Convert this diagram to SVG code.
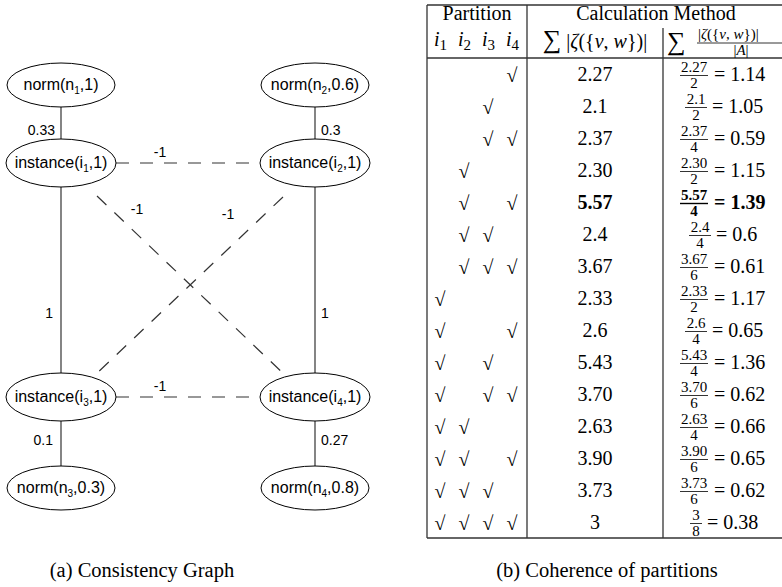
<svg xmlns="http://www.w3.org/2000/svg" width="782" height="587" viewBox="0 0 782 587">
<style>
.nd ellipse{fill:#fff;stroke:#000;stroke-width:1}
.nt{font-family:"Liberation Sans",Arial,sans-serif;font-size:16px;fill:#000;text-anchor:middle}
.sub{font-size:10px}
.el{font-family:"Liberation Sans",Arial,sans-serif;font-size:14px;fill:#000}
.solid{stroke:#333;stroke-width:1.2;fill:none}
.dash{stroke:#333;stroke-width:1.2;fill:none;stroke-dasharray:13 11}
.tl{stroke:#333;stroke-width:1.3}
.tx{font-family:"Liberation Serif","Times New Roman",serif;font-size:20px;fill:#000}
.m{text-anchor:middle}
.sm{font-size:15px}
.hs{font-size:15px}
.big{font-size:26px}
.it{font-style:italic}
.cap{font-family:"Liberation Serif","Times New Roman",serif;font-size:20.5px;fill:#000;text-anchor:middle}
.fb{stroke:#000;stroke-width:0.8}
</style>
<g id="connectors">
<line class="solid" x1="61" y1="107" x2="61" y2="139"/>
<line class="solid" x1="315" y1="107" x2="315" y2="139"/>
<line class="solid" x1="61" y1="187" x2="61" y2="373"/>
<line class="solid" x1="315" y1="187" x2="315" y2="373"/>
<line class="solid" x1="61" y1="421" x2="61" y2="466"/>
<line class="solid" x1="315" y1="421" x2="315" y2="466"/>
<line class="dash" x1="116" y1="163" x2="261" y2="163"/>
<line class="dash" x1="116" y1="397" x2="261" y2="397"/>
<line class="dash" x1="97" y1="196" x2="287" y2="377"/>
<line class="dash" x1="283" y1="197" x2="94" y2="376"/>
<text class="el" x="55" y="135" text-anchor="end">0.33</text>
<text class="el" x="321" y="135">0.3</text>
<text class="el" x="53" y="318" text-anchor="end">1</text>
<text class="el" x="321" y="318">1</text>
<text class="el" x="53" y="445" text-anchor="end">0.1</text>
<text class="el" x="321" y="445">0.27</text>
<text class="el" x="160" y="157" text-anchor="middle">-1</text>
<text class="el" x="137" y="214" text-anchor="middle">-1</text>
<text class="el" x="228" y="219" text-anchor="middle">-1</text>
<text class="el" x="160" y="391" text-anchor="middle">-1</text>
</g>
<g id="n1" class="nd"><ellipse cx="61" cy="85" rx="54" ry="22"/><text class="nt" x="61" y="90">norm(n<tspan class="sub" dy="4">1</tspan><tspan dy="-4">,1)</tspan></text></g>
<g id="n2" class="nd"><ellipse cx="315" cy="85" rx="54" ry="22"/><text class="nt" x="315" y="90">norm(n<tspan class="sub" dy="4">2</tspan><tspan dy="-4">,0.6)</tspan></text></g>
<g id="i1" class="nd"><ellipse cx="61" cy="163" rx="55" ry="24"/><text class="nt" x="61" y="168">instance(i<tspan class="sub" dy="4">1</tspan><tspan dy="-4">,1)</tspan></text></g>
<g id="i2" class="nd"><ellipse cx="315" cy="163" rx="55" ry="24"/><text class="nt" x="315" y="168">instance(i<tspan class="sub" dy="4">2</tspan><tspan dy="-4">,1)</tspan></text></g>
<g id="i3" class="nd"><ellipse cx="61" cy="397" rx="55" ry="24"/><text class="nt" x="61" y="402">instance(i<tspan class="sub" dy="4">3</tspan><tspan dy="-4">,1)</tspan></text></g>
<g id="i4" class="nd"><ellipse cx="315" cy="397" rx="55" ry="24"/><text class="nt" x="315" y="402">instance(i<tspan class="sub" dy="4">4</tspan><tspan dy="-4">,1)</tspan></text></g>
<g id="n3" class="nd"><ellipse cx="61" cy="488" rx="54" ry="22"/><text class="nt" x="61" y="493">norm(n<tspan class="sub" dy="4">3</tspan><tspan dy="-4">,0.3)</tspan></text></g>
<g id="n4" class="nd"><ellipse cx="315" cy="488" rx="54" ry="22"/><text class="nt" x="315" y="493">norm(n<tspan class="sub" dy="4">4</tspan><tspan dy="-4">,0.8)</tspan></text></g>
<g id="table">
<line class="tl" x1="427" y1="5" x2="782" y2="5"/>
<line class="tl" x1="427" y1="58" x2="782" y2="58"/>
<line class="tl" x1="427" y1="538" x2="782" y2="538"/>
<line class="tl" x1="427" y1="5" x2="427" y2="538"/>
<line class="tl" x1="527" y1="5" x2="527" y2="538"/>
<line class="tl" x1="663" y1="28" x2="663" y2="538"/>
<text class="tx m" x="477" y="20">Partition</text>
<text class="tx m" x="656" y="20">Calculation Method</text>
<text class="tx it" x="434" y="46">i<tspan class="sm" dy="4" font-style="normal">1</tspan></text>
<text class="tx it" x="458" y="46">i<tspan class="sm" dy="4" font-style="normal">2</tspan></text>
<text class="tx it" x="482" y="46">i<tspan class="sm" dy="4" font-style="normal">3</tspan></text>
<text class="tx it" x="506" y="46">i<tspan class="sm" dy="4" font-style="normal">4</tspan></text>
<text class="tx m" x="595" y="48"><tspan class="big">∑</tspan> |<tspan class="it">ζ</tspan>({<tspan class="it">v</tspan>, <tspan class="it">w</tspan>})|</text>
<text class="tx big" x="667" y="50">∑</text>
<text class="tx hs" x="698" y="39">|<tspan class="it">ζ</tspan>({<tspan class="it">v</tspan>, <tspan class="it">w</tspan>})|</text>
<line class="fb" x1="697" y1="43" x2="784" y2="43"/>
<text class="tx hs m" x="741" y="55">|<tspan class="it">A</tspan>|</text>
</g>
<g id="checks" class="tx" text-anchor="middle">
<text x="512" y="82">√</text>
<text x="488" y="114">√</text>
<text x="488" y="146">√</text><text x="512" y="146">√</text>
<text x="464" y="178">√</text>
<text x="464" y="210">√</text><text x="512" y="210">√</text>
<text x="464" y="242">√</text><text x="488" y="242">√</text>
<text x="464" y="274">√</text><text x="488" y="274">√</text><text x="512" y="274">√</text>
<text x="440" y="306">√</text>
<text x="440" y="338">√</text><text x="512" y="338">√</text>
<text x="440" y="370">√</text><text x="488" y="370">√</text>
<text x="440" y="402">√</text><text x="488" y="402">√</text><text x="512" y="402">√</text>
<text x="440" y="434">√</text><text x="464" y="434">√</text>
<text x="440" y="466">√</text><text x="464" y="466">√</text><text x="512" y="466">√</text>
<text x="440" y="498">√</text><text x="464" y="498">√</text><text x="488" y="498">√</text>
<text x="440" y="530">√</text><text x="464" y="530">√</text><text x="488" y="530">√</text><text x="512" y="530">√</text>
</g>
<g id="sums" class="tx" text-anchor="middle">
<text x="595" y="81">2.27</text>
<text x="595" y="113">2.1</text>
<text x="595" y="145">2.37</text>
<text x="595" y="177">2.30</text>
<text x="595" y="209" font-weight="bold">5.57</text>
<text x="595" y="241">2.4</text>
<text x="595" y="273">3.67</text>
<text x="595" y="305">2.33</text>
<text x="595" y="337">2.6</text>
<text x="595" y="369">5.43</text>
<text x="595" y="401">3.70</text>
<text x="595" y="433">2.63</text>
<text x="595" y="465">3.90</text>
<text x="595" y="497">3.73</text>
<text x="595" y="529">3</text>
</g>
<g id="fractions" class="tx">
<g transform="translate(0,74)"><text class="sm m" x="694" y="-2">2.27</text><line class="fb" x1="680" y1="1.5" x2="708" y2="1.5"/><text class="sm m" x="694" y="14">2</text><text x="714" y="7">= 1.14</text></g>
<g transform="translate(0,106)"><text class="sm m" x="696" y="-2">2.1</text><line class="fb" x1="685" y1="1.5" x2="707" y2="1.5"/><text class="sm m" x="696" y="14">2</text><text x="712" y="7">= 1.05</text></g>
<g transform="translate(0,138)"><text class="sm m" x="694" y="-2">2.37</text><line class="fb" x1="680" y1="1.5" x2="708" y2="1.5"/><text class="sm m" x="694" y="14">4</text><text x="714" y="7">= 0.59</text></g>
<g transform="translate(0,170)"><text class="sm m" x="694" y="-2">2.30</text><line class="fb" x1="680" y1="1.5" x2="708" y2="1.5"/><text class="sm m" x="694" y="14">2</text><text x="714" y="7">= 1.15</text></g>
<g transform="translate(0,202)" font-weight="bold"><text class="sm m" x="694" y="-2">5.57</text><line x1="680" y1="1.5" x2="708" y2="1.5" stroke="#000" stroke-width="1.4"/><text class="sm m" x="694" y="14">4</text><text x="714" y="7">= 1.39</text></g>
<g transform="translate(0,234)"><text class="sm m" x="700" y="-2">2.4</text><line class="fb" x1="689" y1="1.5" x2="711" y2="1.5"/><text class="sm m" x="700" y="14">4</text><text x="716" y="7">= 0.6</text></g>
<g transform="translate(0,266)"><text class="sm m" x="694" y="-2">3.67</text><line class="fb" x1="680" y1="1.5" x2="708" y2="1.5"/><text class="sm m" x="694" y="14">6</text><text x="714" y="7">= 0.61</text></g>
<g transform="translate(0,298)"><text class="sm m" x="694" y="-2">2.33</text><line class="fb" x1="680" y1="1.5" x2="708" y2="1.5"/><text class="sm m" x="694" y="14">2</text><text x="714" y="7">= 1.17</text></g>
<g transform="translate(0,330)"><text class="sm m" x="696" y="-2">2.6</text><line class="fb" x1="685" y1="1.5" x2="707" y2="1.5"/><text class="sm m" x="696" y="14">4</text><text x="712" y="7">= 0.65</text></g>
<g transform="translate(0,362)"><text class="sm m" x="694" y="-2">5.43</text><line class="fb" x1="680" y1="1.5" x2="708" y2="1.5"/><text class="sm m" x="694" y="14">4</text><text x="714" y="7">= 1.36</text></g>
<g transform="translate(0,394)"><text class="sm m" x="694" y="-2">3.70</text><line class="fb" x1="680" y1="1.5" x2="708" y2="1.5"/><text class="sm m" x="694" y="14">6</text><text x="714" y="7">= 0.62</text></g>
<g transform="translate(0,426)"><text class="sm m" x="694" y="-2">2.63</text><line class="fb" x1="680" y1="1.5" x2="708" y2="1.5"/><text class="sm m" x="694" y="14">4</text><text x="714" y="7">= 0.66</text></g>
<g transform="translate(0,458)"><text class="sm m" x="694" y="-2">3.90</text><line class="fb" x1="680" y1="1.5" x2="708" y2="1.5"/><text class="sm m" x="694" y="14">6</text><text x="714" y="7">= 0.65</text></g>
<g transform="translate(0,490)"><text class="sm m" x="694" y="-2">3.73</text><line class="fb" x1="680" y1="1.5" x2="708" y2="1.5"/><text class="sm m" x="694" y="14">6</text><text x="714" y="7">= 0.62</text></g>
<g transform="translate(0,522)"><text class="sm m" x="696" y="-2">3</text><line class="fb" x1="690" y1="1.5" x2="702" y2="1.5"/><text class="sm m" x="696" y="14">8</text><text x="707" y="7">= 0.38</text></g>
</g>
<g id="captions">
<text class="cap" x="142" y="577">(a) Consistency Graph</text>
<text class="cap" x="607" y="577">(b) Coherence of partitions</text>
</g>
</svg>
